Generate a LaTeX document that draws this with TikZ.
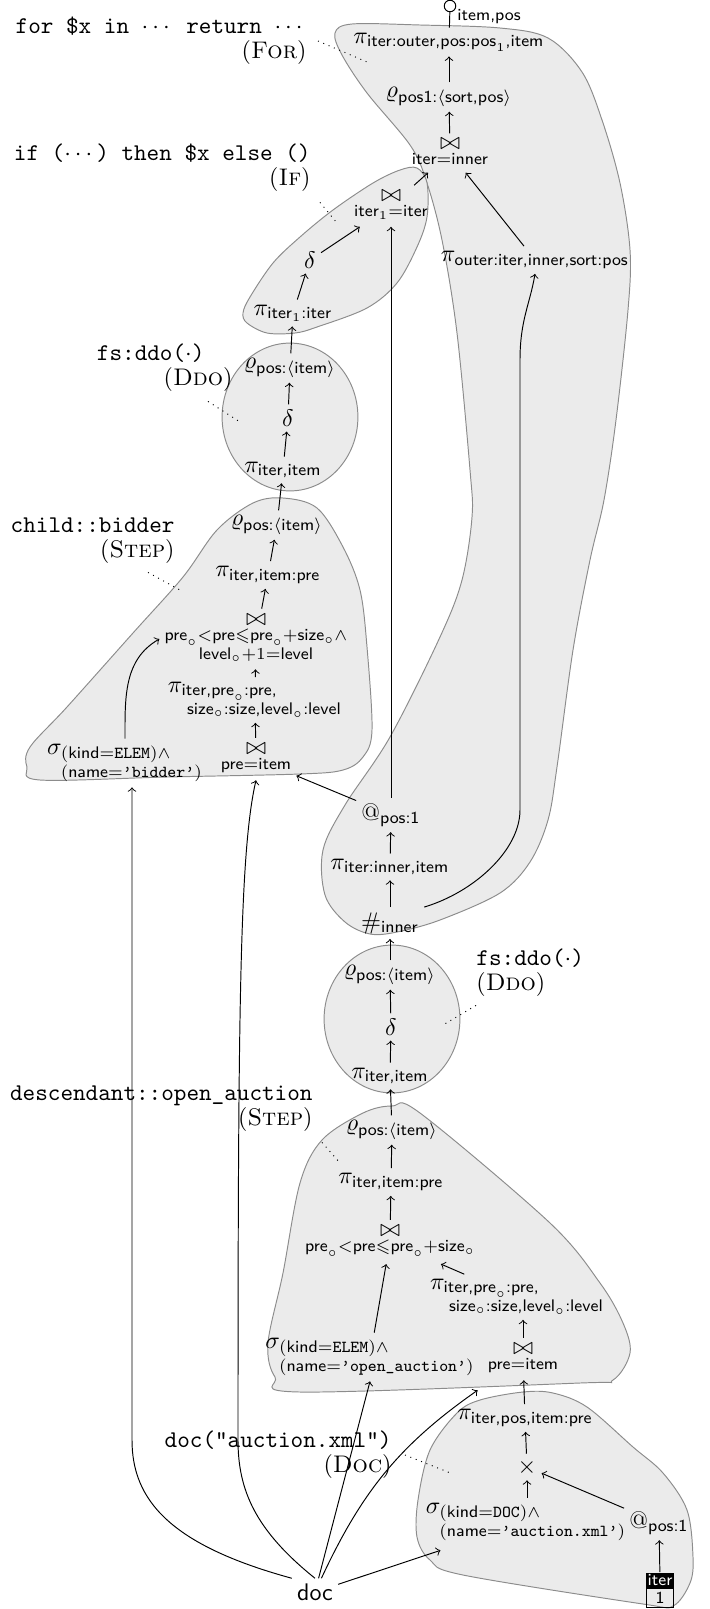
\documentclass[tikz,border=0pt]{standalone}
\usepackage{amsmath,amssymb}
\usetikzlibrary{positioning}
\newcommand{\sfa}[1]{\textsf{#1}}

\begin{document}
\begin{tikzpicture}[
    x=0.4167pt, y=-0.4167pt,
    op/.style={inner sep=2pt},
    lbl/.style={inner sep=0pt, font=\fontsize{10}{10.5}\selectfont\ttfamily},
    blob/.style={draw=black!45, fill=black!8, line width=0.4pt},
    note/.style={dotted},
    >=to
]
\useasboundingbox (0,0) rectangle (710,1609);

% regions of the single rules
\draw[blob] plot[smooth cycle, tension=0.55] coordinates {(335,33) (352,24) (420,25) (500,28) (548,38) (582,72) (602,120) (620,183) (630,250) (628,310) (616,420) (604,500) (590,560) (573,650) (557,767) (548,820) (530,862) (500,893) (440,920) (397,932) (370,934) (345,922) (325,895) (323,850) (345,805) (390,737) (440,637) (462,580) (472,517) (470,470) (457,333) (442,240) (426,180) (410,145) (367,93) (342,55)};
\draw[blob] plot[smooth cycle, tension=0.55] coordinates {(400,170) (417,168) (427,183) (427,217) (417,247) (397,283) (367,308) (317,327) (295,333) (267,333) (247,323) (243,313) (250,297) (273,263) (300,237) (333,210) (373,183)};
\draw[blob] (290,417) ellipse [x radius=28.3pt, y radius=30.8pt];
\draw[blob] plot[smooth cycle, tension=0.55] coordinates {(283,498) (317,508) (343,547) (360,590) (367,647) (372,730) (363,757) (343,770) (300,774) (167,777) (40,780) (27,767) (30,747) (67,707) (133,633) (183,577) (217,530) (253,503)};
\draw[blob] (392,1019) ellipse [x radius=28.3pt, y radius=30.8pt];
\draw[blob] plot[smooth cycle, tension=0.55] coordinates {(392,1106) (420,1113) (550,1223) (600,1283) (623,1323) (630,1353) (613,1380) (580,1383) (300,1392) (275,1377) (268,1343) (283,1273) (300,1183) (322,1140) (363,1113)};
\draw[blob] plot[smooth cycle, tension=0.55] coordinates {(523,1392) (553,1393) (587,1407) (633,1447) (663,1473) (687,1510) (693,1557) (690,1583) (673,1606) (643,1604) (463,1575) (430,1560) (417,1537) (418,1500) (430,1450) (457,1413) (480,1400)};

% for
\node[op] (pio) at (449,42) {$\pi_{\sfa{iter:outer,pos:pos}_1\sfa{,item}}$};
\node[op] (rhos) at (449,97) {$\varrho_{\sfa{pos1:}\langle\sfa{sort,pos}\rangle}$};
\node[op] (joi) at (450,153) {$\mathop{\bowtie}\limits_{\sfa{iter}=\sfa{inner}}$};
\node[op] (pis) at (535,260) {$\pi_{\sfa{outer:iter,inner,sort:pos}}$};
\node[op] (atp) at (391,815) {$\text{@}_{\sfa{pos:1}}$};
\node[op] (pii) at (390,867) {$\pi_{\sfa{iter:inner,item}}$};
\node[op] (cnt) at (390,923) {$\#_{\sfa{inner}}$};
\node[draw, circle, inner sep=0pt, minimum size=4.8pt] (ser) at (450,6) {};
\node[anchor=west, inner sep=0pt, font=\scriptsize\sffamily] (serlbl) at (457,17) {item,pos};

% if
\node[op] (ifjoin) at (391,206) {$\mathop{\bowtie}\limits_{\sfa{iter}_1=\sfa{iter}}$};
\node[op] (ifdelta) at (310,260) {$\delta$};
\node[op] (ifpi) at (293,313) {$\pi_{\sfa{iter}_1\sfa{:iter}}$};

% fs:ddo, upper
\node[op] (drho) at (290,368) {$\varrho_{\sfa{pos:}\langle\sfa{item}\rangle}$};
\node[op] (ddelta) at (288,418) {$\delta$};
\node[op] (dpi) at (283,470) {$\pi_{\sfa{iter,item}}$};

% child::bidder
\node[op] (brho) at (277,525) {$\varrho_{\sfa{pos:}\langle\sfa{item}\rangle}$};
\node[op] (bpi) at (268,575) {$\pi_{\sfa{iter,item:pre}}$};
\node[op] (bjoin) at (256,639) {$\mathop{\bowtie}\limits_{\substack{\sfa{pre}_\circ<\sfa{pre}\leqslant\sfa{pre}_\circ+\sfa{size}_\circ\wedge\\ \sfa{level}_\circ+1=\sfa{level}}}$};
\node[op] (bpi2) at (255,700) {$\pi_{\begin{subarray}{l}\sfa{iter,pre}_\circ\sfa{:pre,}\\ \;\sfa{size}_\circ\sfa{:size,level}_\circ\sfa{:level}\end{subarray}}$};
\node[op] (bjoin2) at (256,759) {$\mathop{\bowtie}\limits_{\sfa{pre}=\sfa{item}}$};
\node[op] (bsel) at (125,763) {$\sigma_{\begin{subarray}{l}(\sfa{kind}=\texttt{ELEM})\wedge\\ (\sfa{name}=\texttt{’bidder’})\end{subarray}}$};

% fs:ddo, lower
\node[op] (lrho) at (390,975) {$\varrho_{\sfa{pos:}\langle\sfa{item}\rangle}$};
\node[op] (ldelta) at (391,1027) {$\delta$};
\node[op] (lpi) at (390,1076) {$\pi_{\sfa{iter,item}}$};

% descendant::open_auction
\node[op] (orho) at (392,1130) {$\varrho_{\sfa{pos:}\langle\sfa{item}\rangle}$};
\node[op] (opi) at (391,1182) {$\pi_{\sfa{iter,item:pre}}$};
\node[op] (ojoin) at (390,1242) {$\mathop{\bowtie}\limits_{\sfa{pre}_\circ<\sfa{pre}\leqslant\sfa{pre}_\circ+\sfa{size}_\circ}$};
\node[op] (opi2) at (517,1297) {$\pi_{\begin{subarray}{l}\sfa{iter,pre}_\circ\sfa{:pre,}\\ \;\sfa{size}_\circ\sfa{:size,level}_\circ\sfa{:level}\end{subarray}}$};
\node[op] (ojoin2) at (523,1359) {$\mathop{\bowtie}\limits_{\sfa{pre}=\sfa{item}}$};
\node[op] (osel) at (370,1357) {$\sigma_{\begin{subarray}{l}(\sfa{kind}=\texttt{ELEM})\wedge\\ (\sfa{name}=\texttt{’open\_auction’})\end{subarray}}$};

% doc
\node[op] (dcpi) at (525,1418) {$\pi_{\sfa{iter,pos,item:pre}}$};
\node[op] (cross) at (527,1467) {$\times$};
\node[op] (dsel) at (526,1522) {$\sigma_{\begin{subarray}{l}(\sfa{kind}=\texttt{DOC})\wedge\\ (\sfa{name}=\texttt{’auction.xml’})\end{subarray}}$};
\node[op] (datp) at (659,1523) {$\text{@}_{\sfa{pos:1}}$};
\node[fill=black, text=white, font=\scriptsize\sffamily, inner sep=0.5pt, minimum width=11.25pt, minimum height=6.25pt, text depth=0pt] (itrh) at (660,1580) {iter};
\node[draw, line width=0.6pt, font=\scriptsize\sffamily, inner sep=0.5pt, minimum width=11.25pt, minimum height=7.9pt, below=0pt of itrh] (itrv) {1};
\node[op] (doc) at (315,1592) {\textsf{doc}};

% labels
\node[lbl, align=right, anchor=east] (forlbl) at (307,41) {for \$x in $\cdots$ return $\cdots$\\\textrm{(\textsc{For})}};
\node[lbl, align=right, anchor=east] (iflbl) at (311,168) {if ($\cdots$) then \$x else ()\\\textrm{(\textsc{If})}};
\node[lbl, align=right, anchor=east] (ddolbl) at (233,368) {fs:ddo($\cdot$)\hspace*{11.7pt}\\\textrm{(\textsc{Ddo})}};
\node[lbl, align=right, anchor=east] (bidlbl) at (175,541) {child::bidder\\\textrm{(\textsc{Step})}};
\node[lbl, align=left, anchor=west] (ddolbl2) at (476,973) {fs:ddo($\cdot$)\\\textrm{(\textsc{Ddo})}};
\node[lbl, align=right, anchor=east] (oalbl) at (313,1109) {descendant::open\_auction\\\textrm{(\textsc{Step})}};
\node[lbl, align=right, anchor=east] (doclbl) at (392,1455) {doc("auction.xml")\\\textrm{(\textsc{Doc})}};

\coordinate (forpin) at (367,62);
\coordinate (ifpin) at (337,223);
\coordinate (ddopin) at (240,422);
\coordinate (bidpin) at (180,590);
\coordinate (ddopin2) at (443,1025);
\coordinate (oapin) at (340,1163);
\coordinate (docpin) at (453,1474);
\draw[note] ([shift={(11,0)}]forlbl.east) -- (forpin);
\draw[note] ([shift={(9,10)}]iflbl.south east) -- (ifpin);
\draw[note] ([shift={(-25,9)}]ddolbl.south east) -- (ddopin);
\draw[note] ([shift={(-27,8)}]bidlbl.south east) -- (bidpin);
\draw[note] ([shift={(0,8)}]ddolbl2.south west) -- (ddopin2);
\draw[note] ([shift={(9,10)}]oalbl.south east) -- (oapin);
\draw[note] ([shift={(13,0)}]doclbl.east) -- (docpin);

% edges
\draw (pio) -- (ser);
\draw[->] (rhos) -- (pio);
\draw[->] (joi) -- (rhos);
\draw[->] (pis) -- (joi);
\draw[->] (ifjoin) -- (joi);
\draw[->] (atp) -- (ifjoin);
\coordinate (up1) at (520,810);
\coordinate (up2) at (520,360);
\draw[->] (cnt.north east) .. controls +(50,-15) and +(0,40) .. (up1) -- (up2) .. controls +(0,-40) and +(-5,30) .. (pis.south);
\draw[->] (pii) -- (atp);
\draw[->] (cnt) -- (pii);
\draw[->] (atp) -- (bjoin2);

\draw[->] (ifdelta) -- (ifjoin);
\draw[->] (ifpi) -- (ifdelta);
\draw[->] (drho) -- (ifpi);
\draw[->] (ddelta) -- (drho);
\draw[->] (dpi) -- (ddelta);

\draw[->] (brho) -- (dpi);
\draw[->] (bpi) -- (brho);
\draw[->] (bjoin) -- (bpi);
\draw[->] (bpi2) -- (bjoin);
\draw[->] (bjoin2) -- (bpi2);
\draw[->] (bsel.north) to[out=90, in=-150] (bjoin.west);

\draw[->] (lrho) -- (cnt);
\draw[->] (ldelta) -- (lrho);
\draw[->] (lpi) -- (ldelta);

\draw[->] (orho) -- (lpi);
\draw[->] (opi) -- (orho);
\draw[->] (ojoin) -- (opi);
\draw[->] (osel) -- (ojoin);
\draw[->] (opi2) -- (ojoin);
\draw[->] (ojoin2) -- (ojoin2 |- opi2.south);

\draw[->] (dcpi) -- (ojoin2);
\draw[->] (cross) -- (dcpi);
\draw[->] (cross |- dsel.north) -- (cross);
\draw[->] (datp) -- (cross);
\draw[->] (itrh) -- (datp);

% doc feeds the three steps
\coordinate (bend1) at (132,1440);
\coordinate (bend2) at (238,1440);
\draw[->] (doc.north west) .. controls (170,1545) and (132,1500) .. (bend1) -- (bend1 |- bsel.south);
\draw[->] (doc.north) .. controls (255,1530) and (238,1490) .. (bend2) .. controls (238,1000) and (240,850) .. (bjoin2.south);
\draw[->] (doc) -- (osel.south);
\draw[->] (doc) to[out=65, in=-145] ([shift={(-5,10)}]ojoin2.south west);
\draw[->] (doc) -- ([shift={(20,4)}]dsel.south west);

\end{tikzpicture}
\end{document}
